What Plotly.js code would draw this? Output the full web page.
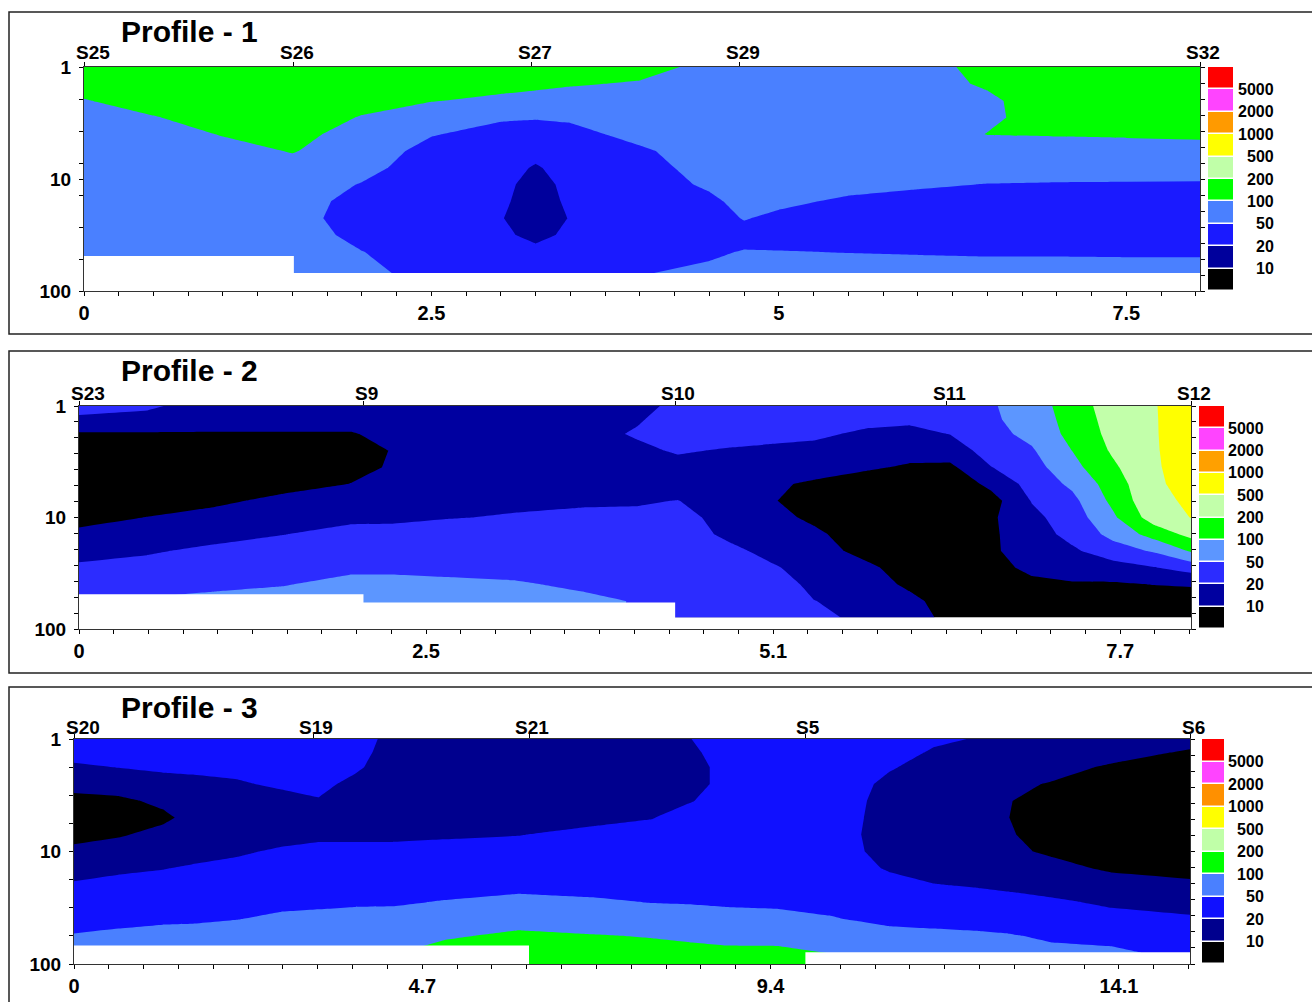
<!DOCTYPE html>
<html>
<head>
<meta charset="utf-8">
<script src="https://cdn.plot.ly/plotly-3.0.1.min.js"></script>
<style>html,body{margin:0;padding:0;background:#fff}#chart{width:1312px;height:1002px}</style>
</head>
<body>
<div id="chart"></div>
<script>
// ---------- shared legend data (resistivity class limits, ohm-m) ----------
const levels = [10, 20, 50, 100, 200, 500, 1000, 2000, 5000];
const levelLabels = ['10', '20', '50', '100', '200', '500', '1000', '2000', '5000'];

// ---------- Profile 1 ----------
const p1Title = 'Profile - 1';
const p1Stations = ['S25', 'S26', 'S27', 'S29', 'S32'];
const p1StationX = [0, 1.51, 3.22, 4.72, 8.03];
const p1TickVals = [0, 2.5, 5, 7.5];
const p1TickText = ['0', '2.5', '5', '7.5'];
const p1X = [0, 0.5, 1.0, 1.5, 2.0, 2.5, 3.0, 3.25, 3.5, 4.0, 4.5, 4.75, 5.0, 5.5, 6.0, 6.5, 7.0, 7.5, 8.03];
const p1Depth = [1, 1.41, 2, 2.82, 3.98, 5.62, 7.94, 11.2, 15.8, 22.4, 31.6, 44.7, 69.2];
const p1Res = [
 [152, 152, 152, 152, 141, 132, 123, 119, 115, 115, 90.1, 87.1, 84.1, 84.1, 84.1, 115, 141, 141, 141],
 [132, 141, 141, 141, 132, 119, 111, 107, 103.5, 96.6, 81.2, 81.2, 81.2, 81.2, 81.2, 107, 141, 141, 141],
 [96.6, 132, 141, 141, 123, 101.4, 93.3, 90.1, 84.1, 84.1, 75.8, 78.5, 78.5, 78.5, 78.5, 90.1, 141, 141, 141],
 [75.8, 96.6, 132, 136.6, 96.6, 81.2, 53.6, 51.8, 55.5, 75.8, 73.2, 75.8, 75.8, 75.8, 75.8, 90.1, 132, 132, 136.6],
 [70.7, 75.8, 103.5, 123, 75.8, 51.8, 38, 38, 38, 61.6, 70.7, 73.2, 73.2, 73.2, 73.2, 101.4, 103.5, 105.7, 108.7],
 [70.7, 70.7, 81.2, 103.5, 70.7, 38, 31.6, 26.3, 31.6, 43.6, 70.7, 70.7, 70.7, 70.7, 70.7, 73.2, 81.2, 82.4, 84.1],
 [70.7, 70.7, 70.7, 81.2, 61.6, 31.6, 28.9, 18.7, 28.9, 34.7, 66, 70.7, 70.7, 68.3, 66, 63.7, 61.6, 61.6, 61.6],
 [70.7, 70.7, 70.7, 70.7, 47.8, 31.6, 26.3, 15.2, 26.3, 31.6, 55.5, 68.3, 68.3, 61.6, 53.6, 49.1, 47.8, 47.3, 46.9],
 [70.7, 70.7, 70.7, 70.7, 34.7, 30.2, 24, 14.1, 24, 31.6, 41.6, 61.6, 57.4, 43.6, 39.8, 36.3, 34.7, 34.7, 34.7],
 [70.7, 70.7, 70.7, 66, 31.6, 28.9, 20.9, 14.1, 20.9, 31.6, 34.7, 51.8, 41.6, 34.7, 34.7, 34.7, 33.1, 33.1, 33.1],
 [70.7, 70.7, 70.7, 70.7, 38, 30.2, 22.9, 17.4, 22.9, 34.7, 34.7, 38, 34.7, 34.7, 34.7, 34.7, 34.7, 34.7, 34.7],
 [70.7, 70.7, 70.7, 70.7, 50.7, 31.6, 28.9, 24, 28.9, 39.8, 43.6, 51.8, 51.1, 48.7, 46.9, 45.6, 45.6, 44.8, 44.8],
 [70.7, 70.7, 70.7, 70.7, 61.6, 34.7, 34.7, 31.6, 34.7, 47.8, 57.4, 70.7, 70.7, 68.3, 66, 63.7, 63.7, 63.7, 63.7]
];
const p1BottomX = [0, 1.51, 1.51, 8.03];
const p1BottomDepth = [48.7, 48.7, 69.2, 69.2];

// ---------- Profile 2 ----------
const p2Title = 'Profile - 2';
const p2Stations = ['S23', 'S9', 'S10', 'S11', 'S12'];
const p2StationX = [0, 2.09, 4.38, 6.375, 8.17];
const p2TickVals = [0, 2.55, 5.1, 7.65];
const p2TickText = ['0', '2.5', '5.1', '7.7'];
const p2X = [0, 0.5, 1.0, 1.5, 2.0, 2.3, 2.7, 3.2, 3.7, 4.1, 4.4, 4.8, 5.1, 5.4, 5.8, 6.1, 6.4, 6.7, 7.0, 7.3, 7.6, 7.9, 8.17];
const p2Depth = [1, 1.32, 1.78, 2.51, 3.55, 5.01, 7.08, 10, 14.1, 20, 28.2, 39.8, 56.2, 79.4];
const p2Res = [
 [28.9, 21.9, 16.2, 16.2, 16.2, 16.8, 17.4, 17.4, 17.4, 16.8, 24.0, 31.6, 31.6, 31.6, 28.9, 27.6, 28.9, 45.6, 70.7, 141, 316, 478, 707],
 [17.4, 17.4, 15.2, 15.2, 14.6, 16.2, 16.8, 16.8, 16.8, 18.7, 28.9, 31.6, 31.6, 30.2, 26.3, 24.0, 26.3, 43.6, 66.0, 132, 289, 473, 707],
 [9.33, 9.33, 9.33, 9.33, 9.33, 13.2, 15.2, 15.7, 15.7, 21.9, 27.6, 28.9, 26.3, 24.0, 17.4, 16.2, 20.4, 38.0, 59.5, 123, 263, 473, 683],
 [7.07, 6.6, 6.6, 6.6, 7.07, 10.35, 14.1, 15.2, 15.2, 17.4, 21.9, 18.7, 17.4, 16.2, 14.1, 12.3, 14.1, 28.9, 45.6, 101.4, 229, 469, 660],
 [6.6, 6.16, 6.16, 7.07, 8.12, 10.7, 14.1, 15.2, 15.2, 15.2, 16.2, 15.2, 13.2, 12.3, 10.7, 9.33, 8.71, 19.6, 34.7, 81.2, 180, 460, 637],
 [6.6, 6.16, 6.6, 7.85, 10.14, 13.2, 14.6, 16.2, 16.2, 15.7, 15.2, 14.1, 10.7, 9.33, 7.58, 6.6, 6.16, 11.9, 27.6, 57.4, 141, 448, 595],
 [7.07, 7.07, 8.71, 11.9, 14.1, 15.2, 16.2, 18.4, 18.7, 18.7, 20.4, 13.7, 10.35, 7.58, 6.6, 5.74, 5.74, 7.58, 20.9, 39.8, 119, 416, 544],
 [8.12, 10.14, 12.7, 16.2, 17.4, 18.0, 19.6, 20.9, 22.9, 24.0, 28.9, 14.1, 12.3, 8.71, 6.16, 5.74, 5.74, 9.01, 16.8, 31.6, 90.1, 316, 507],
 [11.5, 13.2, 16.2, 19.7, 26.3, 25.2, 26.3, 27.6, 28.9, 28.9, 31.6, 16.8, 14.1, 11.5, 6.6, 5.74, 5.74, 9.01, 14.6, 26.3, 61.6, 132, 263],
 [16.2, 18.7, 24.0, 28.9, 31.6, 31.6, 31.6, 31.6, 31.6, 31.6, 33.1, 24.0, 16.2, 14.1, 7.58, 6.16, 5.74, 9.01, 13.7, 18.0, 33.1, 53.6, 107],
 [22.9, 26.3, 31.6, 34.7, 41.6, 41.6, 39.8, 38.0, 34.7, 33.1, 34.7, 31.6, 21.9, 15.2, 11.5, 7.07, 5.74, 8.12, 11.5, 14.1, 15.2, 19.3, 28.9],
 [31.6, 36.3, 43.6, 47.8, 61.6, 61.6, 57.4, 53.6, 43.6, 36.3, 36.3, 33.1, 31.6, 16.8, 14.1, 8.71, 6.16, 6.16, 8.71, 9.33, 9.33, 10.14, 10.7],
 [34.7, 53.6, 57.4, 66.0, 70.7, 70.7, 70.7, 66.0, 57.4, 47.8, 38.0, 34.7, 33.1, 20.4, 15.2, 12.3, 7.07, 5.74, 6.6, 7.07, 7.07, 7.07, 7.07],
 [34.7, 57.4, 66.0, 70.7, 70.7, 70.7, 70.7, 66.0, 61.6, 45.6, 39.8, 36.3, 34.7, 26.3, 16.2, 14.1, 8.12, 5.74, 6.16, 6.16, 6.16, 6.16, 6.16]
];
const p2BottomX = [0, 2.09, 2.09, 4.38, 4.38, 8.17];
const p2BottomDepth = [48.9, 48.9, 58, 58, 79, 79];

// ---------- Profile 3 ----------
const p3Title = 'Profile - 3';
const p3Stations = ['S20', 'S19', 'S21', 'S5', 'S6'];
const p3StationX = [0, 3.23, 6.14, 9.87, 15.06];
const p3TickVals = [0, 4.7, 9.4, 14.1];
const p3TickText = ['0', '4.7', '9.4', '14.1'];
const p3X = [0, 0.6, 1.2, 1.6, 2.2, 2.8, 3.3, 3.8, 4.3, 5.0, 6.0, 7.0, 7.8, 8.3, 8.8, 9.5, 10.2, 10.55, 11.0, 11.6, 12.2, 12.6, 13.2, 14.0, 15.06];
const p3Depth = [1, 1.32, 1.78, 2.51, 3.55, 5.01, 7.08, 10, 14.1, 20, 28.2, 39.8, 56.2, 79.4, 100];
const p3Res = [
 [31.6, 31.6, 31.6, 31.6, 31.6, 33.1, 31.6, 26.3, 17.4, 15.2, 15.2, 15.2, 16.2, 19.6, 28.9, 31.6, 34.7, 34.7, 31.6, 22.9, 19.3, 17.4, 16.2, 14.1, 12.3],
 [27.6, 28.9, 28.9, 28.9, 28.9, 31.6, 30.2, 25.2, 16.2, 14.1, 14.1, 14.1, 15.7, 18.0, 26.3, 30.2, 33.1, 33.1, 27.6, 18.7, 15.2, 15.2, 14.1, 12.3, 9.33],
 [18.0, 20.4, 22.9, 24.0, 25.2, 27.6, 27.6, 22.3, 15.2, 13.2, 13.2, 13.7, 15.2, 16.8, 24.0, 28.9, 31.6, 30.2, 21.9, 15.2, 13.2, 12.7, 11.9, 9.33, 7.07],
 [13.2, 14.1, 16.2, 16.8, 18.7, 22.9, 24.0, 17.4, 14.1, 12.7, 12.7, 13.2, 15.2, 16.8, 24.0, 28.9, 30.2, 26.3, 16.8, 13.7, 12.3, 11.1, 9.66, 7.07, 5.74],
 [7.85, 8.71, 11.5, 13.7, 15.2, 16.2, 19.3, 14.6, 13.7, 12.7, 12.7, 13.7, 16.2, 19.3, 26.3, 30.2, 28.9, 24.0, 15.2, 12.7, 11.5, 10.35, 7.58, 6.16, 5.36],
 [6.6, 7.07, 8.71, 12.3, 14.1, 14.6, 15.2, 14.6, 14.1, 13.7, 14.1, 17.4, 19.6, 26.3, 31.6, 33.1, 28.9, 22.9, 14.6, 12.3, 11.1, 10.14, 7.07, 5.74, 5.0],
 [7.58, 9.33, 12.3, 13.2, 15.2, 16.8, 18.0, 18.0, 18.0, 18.7, 19.7, 24.0, 26.3, 31.6, 34.7, 34.7, 28.9, 21.9, 14.1, 12.3, 11.1, 10.7, 7.58, 5.74, 5.0],
 [12.3, 14.1, 15.2, 16.2, 18.7, 21.9, 24.0, 24.0, 24.0, 25.2, 26.3, 30.2, 31.6, 34.7, 38.0, 36.3, 30.2, 22.9, 15.2, 12.7, 11.5, 11.5, 9.01, 6.6, 5.36],
 [16.2, 18.0, 19.6, 21.9, 24.0, 27.6, 28.9, 28.9, 28.9, 30.2, 31.6, 34.7, 34.7, 38.0, 39.8, 38.0, 33.1, 26.3, 18.7, 15.2, 13.2, 12.7, 12.3, 9.01, 7.07],
 [21.9, 25.2, 26.3, 28.9, 30.2, 33.1, 34.7, 34.7, 34.7, 36.3, 39.8, 39.8, 38.0, 41.6, 41.6, 41.6, 38.0, 33.1, 27.6, 20.9, 18.9, 17.4, 15.2, 13.7, 12.3],
 [31.6, 31.6, 33.1, 34.7, 39.8, 41.6, 43.6, 45.6, 45.6, 51.8, 59.5, 53.6, 49.1, 47.8, 45.6, 45.6, 41.6, 39.8, 34.7, 30.2, 30.2, 27.6, 22.9, 18.0, 16.2],
 [38.0, 41.6, 45.6, 45.6, 49.1, 55.5, 57.4, 59.5, 61.6, 70.7, 81.2, 70.7, 66.0, 63.7, 59.5, 55.5, 51.8, 47.8, 43.6, 41.6, 39.8, 38.0, 33.1, 26.3, 21.9],
 [51.8, 55.5, 57.4, 59.5, 66.0, 66.0, 68.3, 68.3, 81.2, 93.3, 111, 103.5, 96.6, 90.1, 87.1, 81.2, 73.2, 66.0, 57.4, 55.5, 53.6, 51.8, 45.6, 39.8, 31.6],
 [70.7, 70.7, 70.7, 70.7, 70.7, 70.7, 70.7, 70.7, 96.6, 123, 141, 132, 123, 119, 111, 115, 98.6, 81.2, 70.7, 66.0, 63.7, 61.6, 55.5, 55.5, 39.8],
 [70.7, 70.7, 70.7, 70.7, 70.7, 70.7, 70.7, 70.7, 98.6, 132, 152, 141, 132, 123, 115, 123, 115, 87.1, 75.8, 70.7, 68.3, 66.0, 59.5, 57.4, 41.6]
];
const p3BottomX = [0, 6.14, 6.14, 9.87, 9.87, 15.06];
const p3BottomDepth = [68.5, 68.5, 100, 100, 78.5, 78.5];

// ---------- styling ----------
const p1Colors = ['#000000', '#00009c', '#1a1aff', '#4a80ff', '#00ff00', '#c0ffa8', '#ffff00', '#ff9a00', '#ff44ff', '#ff0000'];
const p2Colors = ['#000000', '#0000a0', '#2c2cff', '#5c96ff', '#00ff00', '#c2ffaa', '#ffff00', '#ffa000', '#ff44ff', '#ff0000'];
const p3Colors = ['#000000', '#00008e', '#1010ff', '#4a80ff', '#00ff00', '#c0ffa8', '#ffff00', '#ff9000', '#ff44ff', '#ff0000'];

const W = 1312, H = 1002;
const FONT = 'Liberation Sans, Arial, Helvetica, sans-serif';

// class index: integer k at levels[k], log-interpolated between levels
function toIndex(r) {
  const n = levels.length;
  if (r < levels[0]) return Math.log(r / levels[0]) / Math.log(levels[1] / levels[0]);
  for (let i = 0; i < n - 1; i++) {
    if (r < levels[i + 1]) return i + Math.log(r / levels[i]) / Math.log(levels[i + 1] / levels[i]);
  }
  return (n - 1) + Math.log(r / levels[n - 1]) / Math.log(levels[n - 1] / levels[n - 2]);
}
const decTicks = (step, count, skipMajor) => {
  const out = [];
  for (let k = 0; k <= count; k++) {
    const e = k * step;
    if (skipMajor && Math.abs(e - Math.round(e)) < 1e-6) continue;
    out.push(Math.pow(10, e));
  }
  return out;
};

const panels = [
  {title: p1Title, x: p1X, depth: p1Depth, res: p1Res, st: p1Stations, stX: p1StationX, tv: p1TickVals, tt: p1TickText,
   minorDt: 0.25, botX: p1BottomX, botD: p1BottomDepth, colors: p1Colors,
   box: {l: 84, r: 1200, t: 67, b: 291}, cb: {l: 1208, r: 1233}, cbLabelX: 1276, frame: {t: 12, b: 334}, titleY: 31, stY: 52,
   leftMinor: decTicks(2 / 7, 7, true)},
  {title: p2Title, x: p2X, depth: p2Depth, res: p2Res, st: p2Stations, stX: p2StationX, tv: p2TickVals, tt: p2TickText,
   minorDt: 0.255, botX: p2BottomX, botD: p2BottomDepth, colors: p2Colors,
   box: {l: 79, r: 1191, t: 406, b: 629}, cb: {l: 1199, r: 1224}, cbLabelX: 1266, frame: {t: 351, b: 673}, titleY: 370, stY: 393,
   leftMinor: decTicks(1 / 7, 14, true)},
  {title: p3Title, x: p3X, depth: p3Depth, res: p3Res, st: p3Stations, stX: p3StationX, tv: p3TickVals, tt: p3TickText,
   minorDt: 0.47, botX: p3BottomX, botD: p3BottomDepth, colors: p3Colors,
   box: {l: 74, r: 1190, t: 739, b: 964}, cb: {l: 1202, r: 1224}, cbLabelX: 1266, frame: {t: 687, b: 1010}, titleY: 707, stY: 727,
   leftMinor: decTicks(1 / 4, 8, true)}
];
const rightTicks = decTicks(1 / 7, 14, false);

const layout = {
  width: W, height: H, margin: {l: 0, r: 0, t: 0, b: 0},
  paper_bgcolor: '#ffffff', plot_bgcolor: 'rgba(0,0,0,0)', showlegend: false,
  font: {family: FONT, color: '#000'}, shapes: [], annotations: []
};
const traces = [];
const idn = n => (n === 1 ? '' : String(n));
const legendIdx = levels.map((_, k) => k).concat([levels.length]);

panels.forEach((p, i) => {
  const b = i * 3 + 1;
  const xMain = 'x' + idn(b), xTop = 'x' + idn(b + 1), xCb = 'x' + idn(b + 2);
  const yMain = 'y' + idn(b), yRight = 'y' + idn(b + 1), yCb = 'y' + idn(b + 2);
  const xmax = p.x[p.x.length - 1];
  const ydom = [1 - p.box.b / H, 1 - p.box.t / H];
  const cs = p.colors.map((c, k) => [k / (p.colors.length - 1), c]);

  layout['xaxis' + idn(b)] = {
    domain: [p.box.l / W, p.box.r / W], range: [0, xmax], anchor: yMain,
    tickmode: 'array', tickvals: p.tv, ticktext: p.tt, ticks: 'outside', ticklen: 4, tickcolor: '#000',
    showline: true, mirror: true, linecolor: '#333', linewidth: 1, showgrid: false, zeroline: false,
    tickfont: {size: 20, weight: 'bold', family: FONT},
    minor: {tickmode: 'linear', tick0: 0, dtick: p.minorDt, ticks: 'outside', ticklen: 4, tickcolor: '#000', showgrid: false},
    fixedrange: true
  };
  layout['xaxis' + idn(b + 1)] = {
    overlaying: xMain, side: 'top', anchor: yMain, range: [0, xmax],
    tickmode: 'array', tickvals: p.stX, showticklabels: false, ticks: 'outside', ticklen: 4, tickcolor: '#000',
    showline: false, showgrid: false, zeroline: false, fixedrange: true
  };
  layout['yaxis' + idn(b)] = {
    domain: ydom, type: 'log', range: [2, 0], anchor: xMain,
    tickmode: 'array', tickvals: [1, 10, 100], ticktext: ['1', '10', '100'], ticks: 'outside', ticklen: 4, tickcolor: '#000',
    showline: true, mirror: true, linecolor: '#333', linewidth: 1, showgrid: false, zeroline: false,
    tickfont: {size: 19, weight: 'bold', family: FONT}, ticklabelstandoff: 4,
    minor: {tickmode: 'array', tickvals: p.leftMinor, ticks: 'outside', ticklen: 4, tickcolor: '#000', showgrid: false},
    fixedrange: true
  };
  layout['yaxis' + idn(b + 1)] = {
    overlaying: yMain, side: 'right', anchor: xMain, type: 'log', range: [2, 0],
    tickmode: 'array', tickvals: rightTicks, showticklabels: false, ticks: 'outside', ticklen: 4, tickcolor: '#000',
    showline: false, showgrid: false, zeroline: false, fixedrange: true
  };
  layout['xaxis' + idn(b + 2)] = {domain: [p.cb.l / W, p.cb.r / W], anchor: yCb, range: [-0.5, 0.5], visible: false, fixedrange: true};
  layout['yaxis' + idn(b + 2)] = {domain: ydom, anchor: xCb, range: [-0.5, legendIdx.length - 0.5], visible: false, fixedrange: true};

  traces.push({
    type: 'contour', x: p.x, y: p.depth, z: p.res.map(row => row.map(toIndex)),
    xaxis: xMain, yaxis: yMain, autocontour: false,
    contours: {start: 0, end: levels.length - 1, size: 1, coloring: 'fill', showlines: false},
    line: {width: 0, smoothing: 0}, colorscale: cs, showscale: false, hoverinfo: 'skip'
  });
  traces.push({
    type: 'scatter', mode: 'none', x: p.botX.concat([xmax, 0]), y: p.botD.concat([100, 100]),
    fill: 'toself', fillcolor: '#ffffff', xaxis: xMain, yaxis: yMain, hoverinfo: 'skip'
  });
  traces.push({type: 'scatter', mode: 'markers', x: [], y: [], xaxis: xTop, yaxis: yMain, hoverinfo: 'skip'});
  traces.push({type: 'scatter', mode: 'markers', x: [], y: [], xaxis: xMain, yaxis: yRight, hoverinfo: 'skip'});
  traces.push({
    type: 'heatmap', x: [0], y: legendIdx, z: legendIdx.map(k => [k]), zmin: 0, zmax: legendIdx.length - 1,
    colorscale: cs, showscale: false, ygap: 1.5, xaxis: xCb, yaxis: yCb, hoverinfo: 'skip'
  });

  levelLabels.forEach((t, k) => layout.annotations.push({
    xref: 'paper', yref: yCb, x: p.cbLabelX / W, y: k + 0.5, xanchor: 'right', yanchor: 'middle',
    text: t, showarrow: false, font: {size: 16, weight: 'bold', family: FONT}
  }));
  p.st.forEach((s, k) => layout.annotations.push({
    xref: xMain, yref: 'paper', x: p.stX[k], y: 1 - p.stY / H, xanchor: 'center', yanchor: 'middle',
    xshift: k === 0 ? 9 : 3, text: s, showarrow: false, font: {size: 19, weight: 'bold', family: FONT}
  }));
  layout.annotations.push({
    xref: 'paper', yref: 'paper', x: 119 / W, y: 1 - p.titleY / H, xanchor: 'left', yanchor: 'middle',
    text: p.title, showarrow: false, font: {size: 30, weight: 'bold', family: FONT}
  });
  layout.shapes.push({
    type: 'rect', xref: 'paper', yref: 'paper', x0: 9 / W, x1: 1330 / W,
    y0: 1 - p.frame.b / H, y1: 1 - p.frame.t / H, line: {color: '#222', width: 1.5}
  });
});

Plotly.newPlot('chart', traces, layout, {staticPlot: true, displayModeBar: false});
</script>
</body>
</html>
